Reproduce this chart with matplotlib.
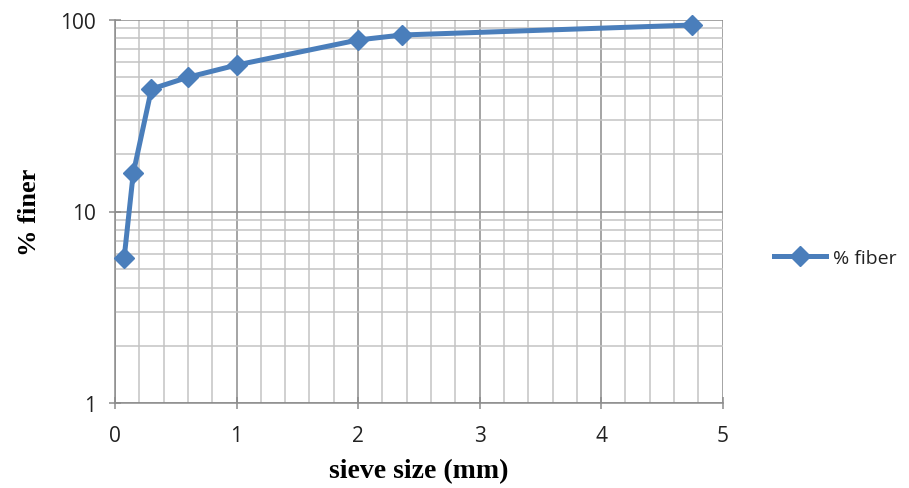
import matplotlib
matplotlib.use("Agg")
import matplotlib.pyplot as plt
from matplotlib.ticker import FixedLocator, LogLocator, NullFormatter, FixedFormatter
import numpy as np

sieve_size = [0.075, 0.15, 0.3, 0.6, 1.0, 2.0, 2.36, 4.75]
pct_finer = [5.7, 15.8, 43.5, 50.1, 58.0, 78.4, 83.2, 93.8]
series_name = "% fiber"
x_ticks = [0, 1, 2, 3, 4, 5]
y_ticks = [1, 10, 100]
y_tick_labels = ["1", "10", "100"]

fig = plt.figure(figsize=(9.09, 4.89), dpi=100)
W, H = 909, 489
ax = fig.add_axes([115 / W, 1 - 404.3 / H, (722.7 - 115) / W, (404.3 - 20.7) / H])

ax.set_yscale("log")
ax.set_xlim(0, 5)
ax.set_ylim(1, 100)

ax.xaxis.set_major_locator(FixedLocator(x_ticks))
ax.xaxis.set_minor_locator(FixedLocator(np.arange(0, 5.01, 0.2)))
ax.yaxis.set_major_locator(FixedLocator(y_ticks))
ax.yaxis.set_major_formatter(FixedFormatter(y_tick_labels))
ax.yaxis.set_minor_locator(LogLocator(base=10, subs=np.arange(2, 10)))
ax.yaxis.set_minor_formatter(NullFormatter())

ax.grid(True, which="major", color="#8c8c8c", linewidth=1.1)
ax.grid(True, which="minor", color="#c3c3c3", linewidth=1.1)
ax.set_axisbelow(True)

for s in ["top", "right"]:
    ax.spines[s].set_visible(False)
for s in ["left", "bottom"]:
    ax.spines[s].set_color("#8c8c8c")
    ax.spines[s].set_linewidth(1.1)

ax.tick_params(which="major", direction="inout", length=9, width=1.1, color="#8c8c8c",
               labelsize=15, labelcolor="#222222")
ax.tick_params(axis="x", which="major", pad=11)
ax.tick_params(axis="y", which="major", pad=9)
ax.tick_params(which="minor", length=0)
for lab in ax.get_xticklabels() + ax.get_yticklabels():
    lab.set_fontfamily("Open Sans")

ax.plot(sieve_size, pct_finer, color="#4a7ebb", linewidth=3.6, marker="D",
        markersize=10, markerfacecolor="#4a7ebb", markeredgecolor="#4a7ebb",
        label=series_name, clip_on=False, zorder=5)

ax.set_xlabel("sieve size (mm)", fontfamily="Liberation Serif", fontweight="bold",
              fontsize=20, labelpad=9)
ax.set_ylabel("% finer", fontfamily="Liberation Serif", fontweight="bold",
              fontsize=19, labelpad=14)

leg = ax.legend(loc="center left", bbox_to_anchor=(1.055, 0.38), frameon=False,
                prop={"family": "Open Sans", "size": 14}, handlelength=2.7,
                handletextpad=0.35)
for t in leg.get_texts():
    t.set_color("#222222")

fig.savefig("out.png", dpi=100)
